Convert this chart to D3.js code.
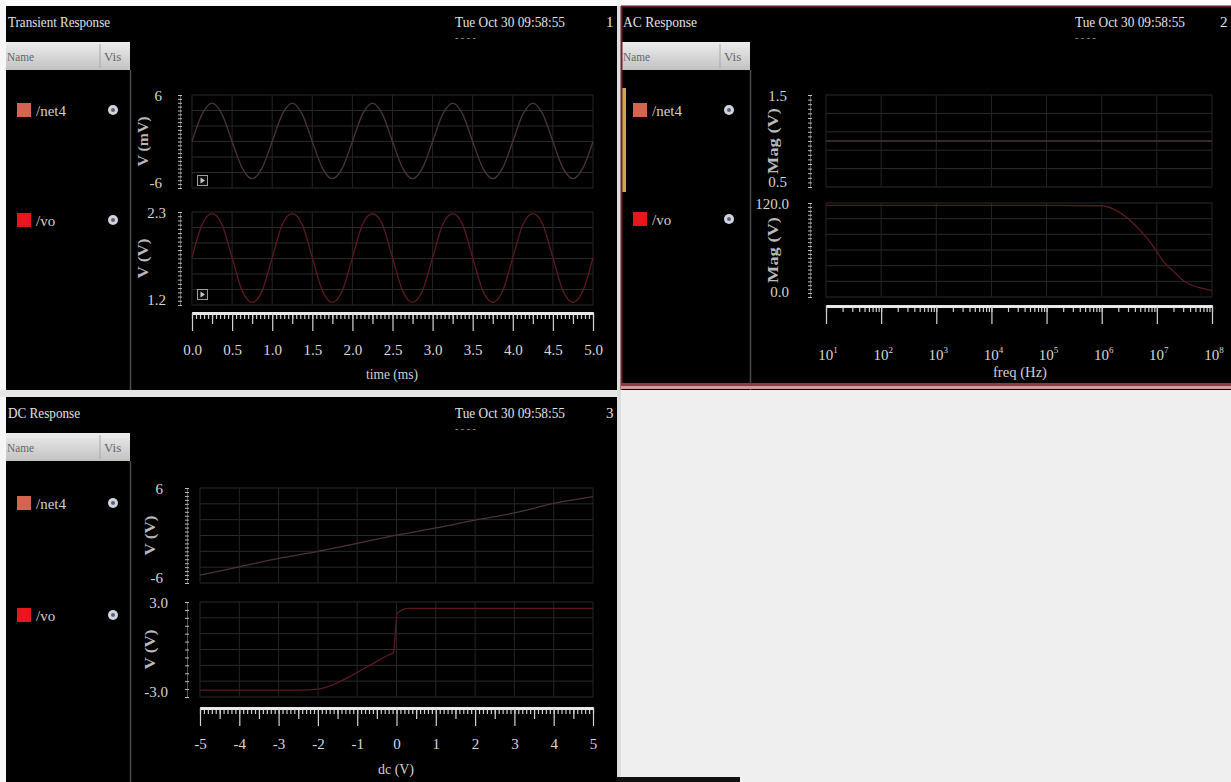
<!DOCTYPE html>
<html>
<head>
<meta charset="utf-8">
<script src="https://cdn.jsdelivr.net/npm/d3@7"></script>
<style>
  body { margin: 0; background: #efefef; }
  svg { display: block; }
</style>
</head>
<body>
<svg id="chart" width="1231" height="782"></svg>
<script>
// ---- data ----
const panelTitles = ['Transient Response', 'AC Response', 'DC Response'];
const stamp = 'Tue Oct 30 09:58:55';
const signals = ['/net4', '/vo'];
const signalColors = ['#d4644f', '#e8161c'];
const traceColors = ['#4a3437', '#5c1a20'];

// transient, time in ms
const tTime = [0,0.125,0.25,0.375,0.5,0.625,0.75,0.875,1,1.125,1.25,1.375,1.5,1.625,1.75,1.875,
  2,2.125,2.25,2.375,2.5,2.625,2.75,2.875,3,3.125,3.25,3.375,3.5,3.625,3.75,3.875,
  4,4.125,4.25,4.375,4.5,4.625,4.75,4.875,5];
// net4 in mV
const tNet4 = [0,3.5,4.95,3.5,0,-3.4,-4.8,-3.4,
  0,3.5,4.95,3.5,0,-3.4,-4.8,-3.4,
  0,3.5,4.95,3.5,0,-3.4,-4.8,-3.4,
  0,3.5,4.95,3.5,0,-3.4,-4.8,-3.4,
  0,3.5,4.95,3.5,0,-3.4,-4.8,-3.4,
  0];
// vo in V
const tVo = [1.76,2.15,2.28,2.15,1.76,1.37,1.23,1.37,
  1.76,2.15,2.28,2.15,1.76,1.37,1.23,1.37,
  1.76,2.15,2.28,2.15,1.76,1.37,1.23,1.37,
  1.76,2.15,2.28,2.15,1.76,1.37,1.23,1.37,
  1.76,2.15,2.28,2.15,1.76,1.37,1.23,1.37,
  1.76];
const tMajor = [0,0.5,1,1.5,2,2.5,3,3.5,4,4.5,5];

// AC, freq in Hz
const acFreq = [10,100,1e3,1e4,1e5,1e6,2e6,4e6,6.3e6,1e7,1.26e7,2e7,2.9e7,4e7,6.8e7,1e8];
const acNet4 = [1,1,1,1,1,1,1,1,1,1,1,1,1,1,1,1];
const acVo = [117,117,117,117,117,116.5,109,92,77,58,47,33,22,16,11,8];
const acDecades = [1e1,1e2,1e3,1e4,1e5,1e6,1e7,1e8];

// DC sweep, V
const dcSweep = [-5,-4,-3,-2,-1,0,1,2,3,4,5];
const dcNet4 = [-5.0,-3.95,-2.9,-2.0,-1.0,0.05,0.95,1.95,2.85,4.05,4.9];
const dcSweepVo = [-5,-4,-3,-2.5,-2,-1.5,-1,-0.5,-0.2,-0.08,0.02,0.3,1,2,3,4,5];
const dcVo = [-2.56,-2.56,-2.56,-2.56,-2.5,-2.1,-1.45,-0.75,-0.35,-0.2,2.3,2.6,2.6,2.6,2.6,2.6,2.6];
const dcMajor = [-5,-4,-3,-2,-1,0,1,2,3,4,5];

const FONT = '"Liberation Serif", "DejaVu Serif", serif';
const svg = d3.select('#chart').attr('font-family', FONT);
const hyphen = f => d => f(d).replace('\u2212', '-');

// page background
svg.append('rect').attr('width', 1231).attr('height', 782).attr('fill', '#efefef');
svg.append('rect').attr('width', 1231).attr('height', 6).attr('fill', '#fafafa');
svg.append('rect').attr('width', 6).attr('height', 782).attr('fill', '#f6f6f6');
svg.append('rect').attr('x', 0).attr('y', 390).attr('width', 621).attr('height', 7).attr('fill', '#e6e6e6');
svg.append('rect').attr('x', 617).attr('y', 6).attr('width', 4).attr('height', 776).attr('fill', '#dedede');
svg.append('rect').attr('x', 617).attr('y', 777).attr('width', 123).attr('height', 5).attr('fill', '#111');

const defs = svg.append('defs');
const grad = defs.append('linearGradient').attr('id', 'hdr').attr('x1', 0).attr('y1', 0).attr('x2', 0).attr('y2', 1);
grad.append('stop').attr('offset', '0%').attr('stop-color', '#ececec');
grad.append('stop').attr('offset', '100%').attr('stop-color', '#c2c2c2');

function frame(f) {
  const g = svg.append('g');
  g.append('rect').attr('x', f.x).attr('y', f.y).attr('width', f.w).attr('height', f.h).attr('fill', '#000');
  g.append('text').attr('x', f.x + 2).attr('y', f.y + 21)
    .attr('textLength', f.titleW).attr('lengthAdjust', 'spacingAndGlyphs')
    .attr('font-size', 15).attr('fill', '#e2e2e2').text(f.title);
  g.append('text').attr('x', f.dateX).attr('y', f.y + 21)
    .attr('textLength', 110).attr('lengthAdjust', 'spacingAndGlyphs')
    .attr('font-size', 15).attr('fill', '#e2e2e2').text(stamp);
  g.append('text').attr('x', f.dateX).attr('y', f.y + 35)
    .attr('font-size', 10).attr('fill', '#9a9a9a').text('- - - -');
  g.append('text').attr('x', f.x + f.w - 11).attr('y', f.y + 21)
    .attr('font-size', 15).attr('fill', '#e2e2e2').text(f.num);

  // signal list
  const hx = f.listX, hy = f.y + 36;
  g.append('rect').attr('x', hx).attr('y', hy).attr('width', f.listW).attr('height', 28).attr('fill', 'url(#hdr)');
  g.append('line').attr('x1', hx + f.listW - 30).attr('x2', hx + f.listW - 30)
    .attr('y1', hy + 2).attr('y2', hy + 26).attr('stroke', '#a8a8a8');
  g.append('text').attr('x', hx + 1).attr('y', hy + 19).attr('font-size', 13)
    .attr('textLength', 27).attr('lengthAdjust', 'spacingAndGlyphs').attr('fill', '#666').text('Name');
  g.append('text').attr('x', hx + f.listW - 26).attr('y', hy + 19).attr('font-size', 13)
    .attr('fill', '#666').text('Vis');
  g.append('line').attr('x1', hx + f.listW + 0.5).attr('x2', hx + f.listW + 0.5)
    .attr('y1', hy + 28).attr('y2', f.y + f.h).attr('stroke', '#4a4a4a').attr('stroke-width', 1.5);

  f.rows.forEach((ry, i) => {
    g.append('rect').attr('x', hx + 11).attr('y', ry - 7).attr('width', 14).attr('height', 14)
      .attr('fill', signalColors[i]);
    g.append('text').attr('x', hx + 30).attr('y', ry + 6).attr('font-size', 15)
      .attr('fill', '#cfcfcf').text(signals[i]);
    g.append('circle').attr('cx', hx + 107).attr('cy', ry).attr('r', 5).attr('fill', '#cfd4de');
    g.append('circle').attr('cx', hx + 107).attr('cy', ry).attr('r', 2).attr('fill', '#5b6275');
  });
  return g;
}

function grid(x, xTicks, y, rows) {
  const [lo, hi] = y.domain();
  const [x0, x1] = x.range();
  const levels = d3.range(rows + 1).map(i => lo + (hi - lo) * i / rows);
  svg.append('g').selectAll('line').data(levels).join('line')
    .attr('x1', x0).attr('x2', x1)
    .attr('y1', d => y(d)).attr('y2', d => y(d))
    .attr('stroke', '#2a2a2a');
  svg.append('g').selectAll('line').data(xTicks).join('line')
    .attr('x1', d => x(d)).attr('x2', d => x(d))
    .attr('y1', y(hi)).attr('y2', y(lo))
    .attr('stroke', '#242424');
}

function yRuler(y, xPos, step, fmt, labelX, title, titleLen) {
  const [lo, hi] = y.domain();
  const vals = d3.range(lo, hi + step / 2, step);
  const g = svg.append('g').attr('transform', `translate(${xPos},0)`)
    .call(d3.axisRight(y).tickValues(vals).tickSize(4).tickSizeOuter(0).tickFormat(''));
  g.selectAll('.tick line').attr('stroke', '#bdbdbd').attr('transform', 'translate(-2,0)');
  g.select('.domain').attr('stroke', '#555');
  svg.append('g').selectAll('text').data([hi, lo]).join('text')
    .attr('x', labelX).attr('y', (d, i) => y(d) + (i === 0 ? 6 : 0))
    .attr('text-anchor', 'end').attr('font-size', 15).attr('fill', '#d4d4d4')
    .text(d => fmt(d));
  const cy = (y(lo) + y(hi)) / 2;
  svg.append('text').attr('transform', `translate(${xPos - 32},${cy}) rotate(-90)`)
    .attr('text-anchor', 'middle').attr('font-size', 15).attr('font-weight', 'bold')
    .attr('textLength', titleLen).attr('lengthAdjust', 'spacingAndGlyphs')
    .attr('fill', '#b9b9b9').text(title);
}

function xRuler(x, yPos, minor, mid, major, fmt, pad) {
  const g = svg.append('g').attr('transform', `translate(0,${yPos})`);
  g.append('g').call(d3.axisBottom(x).tickValues(minor).tickSize(6).tickSizeOuter(0).tickFormat(''));
  if (mid) g.append('g').call(d3.axisBottom(x).tickValues(mid).tickSize(11).tickSizeOuter(0).tickFormat(''));
  g.append('g').call(d3.axisBottom(x).tickValues(major).tickSize(18).tickSizeOuter(0)
    .tickPadding(pad).tickFormat(fmt || ''));
  g.selectAll('.tick line').attr('stroke', '#d2d2d2').attr('stroke-width', 1.2);
  g.selectAll('.domain').attr('stroke', '#e8e8e8').attr('stroke-width', 3);
  g.selectAll('.tick text').attr('fill', '#d8d8d8').style('font-size', '15px').style('font-family', FONT);
  return g;
}

function trace(xs, ys, x, y, color) {
  const pts = xs.map((d, i) => [d, ys[i]]);
  svg.append('path').datum(pts)
    .attr('fill', 'none').attr('stroke', color).attr('stroke-width', 1.3)
    .attr('d', d3.line().x(d => x(d[0])).y(d => y(d[1])).curve(d3.curveMonotoneX));
}

function playBox(px, py) {
  svg.append('rect').attr('x', px + 0.5).attr('y', py + 0.5).attr('width', 10).attr('height', 10)
    .attr('fill', '#0c0c0c').attr('stroke', '#9c9c9c');
  svg.append('path').attr('d', `M${px + 3.5},${py + 2.5}L${px + 8},${py + 5.5}L${px + 3.5},${py + 8.5}Z`)
    .attr('fill', '#c8c8c8');
}

// ---------- panel 1 : transient ----------
frame({ x: 6, y: 6, w: 611, h: 384, title: panelTitles[0], titleW: 102, dateX: 455, num: '1',
  listX: 6, listW: 124, rows: [110, 220] });

const xT = d3.scaleLinear().domain([0, 5]).range([192, 593]);
const yT1 = d3.scaleLinear().domain([-6, 6]).range([188, 95]);
const yT2 = d3.scaleLinear().domain([1.2, 2.3]).range([305, 212]);
grid(xT, tMajor, yT1, 6);
grid(xT, tMajor, yT2, 6);
trace(tTime, tNet4, xT, yT1, traceColors[0]);
trace(tTime, tVo, xT, yT2, traceColors[1]);
yRuler(yT1, 180, 0.5, hyphen(d3.format('d')), 162, 'V (mV)', 50);
yRuler(yT2, 180, 0.05, d3.format('.1f'), 166, 'V (V)', 40);
playBox(197, 175);
playBox(197, 289);
xRuler(xT, 313, d3.range(0, 5.0001, 0.05), d3.range(0.25, 5, 0.5), tMajor, d3.format('.1f'), 13);
svg.append('text').attr('x', 392).attr('y', 379).attr('text-anchor', 'middle')
  .attr('font-size', 15).attr('textLength', 52).attr('lengthAdjust', 'spacingAndGlyphs')
  .attr('fill', '#d0d0d0').text('time (ms)');

// ---------- panel 2 : AC ----------
frame({ x: 621, y: 6, w: 610, h: 384, title: panelTitles[1], titleW: 74, dateX: 1075, num: '2',
  listX: 622, listW: 128, rows: [110, 219] });
svg.append('rect').attr('x', 622).attr('y', 88).attr('width', 4).attr('height', 104).attr('fill', '#c9a94a');
svg.append('line').attr('x1', 621).attr('x2', 1231).attr('y1', 6.5).attr('y2', 6.5).attr('stroke', '#5e1c24').attr('stroke-width', 2);
svg.append('line').attr('x1', 621.5).attr('x2', 621.5).attr('y1', 6).attr('y2', 390).attr('stroke', '#6a222a').attr('stroke-width', 2);
svg.append('line').attr('x1', 621).attr('x2', 1231).attr('y1', 384.5).attr('y2', 384.5).attr('stroke', '#8e3a44').attr('stroke-width', 3);
svg.append('line').attr('x1', 621).attr('x2', 1231).attr('y1', 387.5).attr('y2', 387.5).attr('stroke', '#d7959c').attr('stroke-width', 3);

const xA = d3.scaleLog().domain([10, 1e8]).range([826, 1212]);
const yA1 = d3.scaleLinear().domain([0.5, 1.5]).range([187, 95]);
const yA2 = d3.scaleLinear().domain([0, 120]).range([297, 203]);
grid(xA, acDecades, yA1, 5);
grid(xA, acDecades, yA2, 6);
trace(acFreq, acNet4, xA, yA1, traceColors[0]);
trace(acFreq, acVo, xA, yA2, traceColors[1]);
yRuler(yA1, 810, 0.05, d3.format('.1f'), 787, 'Mag (V)', 66);
yRuler(yA2, 810, 5, d3.format('.1f'), 789, 'Mag (V)', 66);
xRuler(xA, 306, xA.ticks(), null, acDecades, null, 0);
const decLabels = svg.append('g').selectAll('text').data(acDecades).join('text')
  .attr('x', d => xA(d) + 2).attr('y', 360).attr('text-anchor', 'middle')
  .attr('font-size', 15).attr('fill', '#d8d8d8');
decLabels.append('tspan').text('10');
decLabels.append('tspan').attr('dy', -7).attr('font-size', 9).text(d => Math.round(Math.log10(d)));
svg.append('text').attr('x', 1020).attr('y', 377).attr('text-anchor', 'middle')
  .attr('font-size', 15).attr('textLength', 54).attr('lengthAdjust', 'spacingAndGlyphs')
  .attr('fill', '#d0d0d0').text('freq (Hz)');

// ---------- panel 3 : DC ----------
frame({ x: 6, y: 397, w: 611, h: 385, title: panelTitles[2], titleW: 72, dateX: 455, num: '3',
  listX: 6, listW: 124, rows: [503, 615] });

const xD = d3.scaleLinear().domain([-5, 5]).range([200, 593]);
const yD1 = d3.scaleLinear().domain([-6, 6]).range([583, 488]);
const yD2 = d3.scaleLinear().domain([-3, 3]).range([697, 602]);
grid(xD, dcMajor, yD1, 6);
grid(xD, dcMajor, yD2, 6);
trace(dcSweep, dcNet4, xD, yD1, traceColors[0]);
trace(dcSweepVo, dcVo, xD, yD2, traceColors[1]);
yRuler(yD1, 187, 0.5, hyphen(d3.format('d')), 163, 'V (V)', 40);
yRuler(yD2, 187, 0.5, hyphen(d3.format('.1f')), 168, 'V (V)', 40);
xRuler(xD, 708, d3.range(-5, 5.0001, 0.1), d3.range(-4.5, 5, 1), dcMajor, hyphen(d3.format('d')), 12);
svg.append('text').attr('x', 396).attr('y', 774).attr('text-anchor', 'middle')
  .attr('font-size', 15).attr('textLength', 36).attr('lengthAdjust', 'spacingAndGlyphs')
  .attr('fill', '#d0d0d0').text('dc (V)');
</script>
</body>
</html>
